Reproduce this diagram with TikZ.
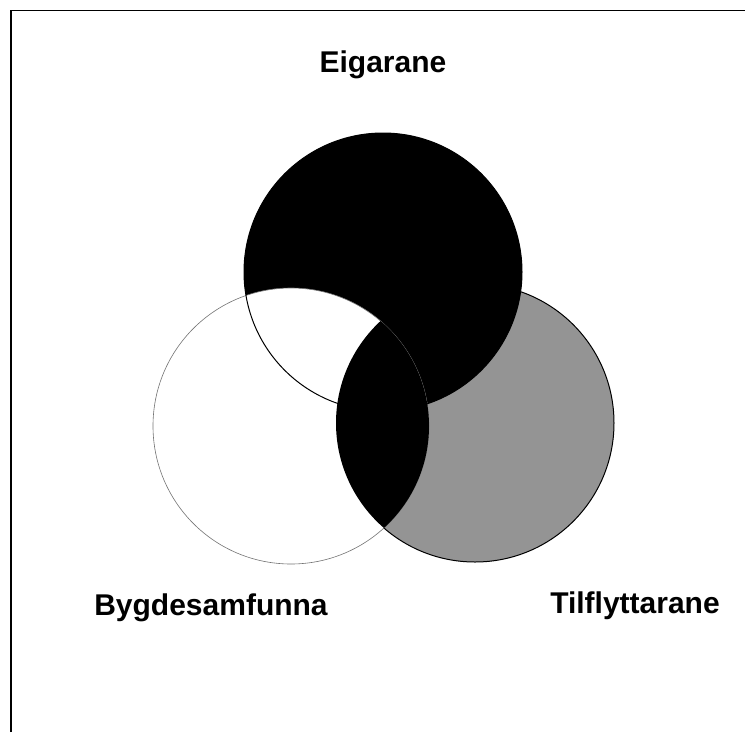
\documentclass[tikz,border=0pt]{standalone}
\usepackage{fontspec}
\setmainfont{Liberation Sans}
\usepackage{xcolor}
\usepackage{tikz}
\usetikzlibrary{positioning, calc}
\definecolor{midgrey}{gray}{0.58}
\tikzset{
  label/.style={font=\fontsize{30}{36}\selectfont\bfseries, anchor=base, inner sep=0pt},
  frameline/.style={line width=1.6pt, black},
  rim/.style={line width=1pt, black},
  thinrim/.style={line width=0.6pt, black!55},
}

\begin{document}
\begin{tikzpicture}[x=1pt, y=-1pt]
\useasboundingbox (0,0) rectangle (748,732);
\coordinate (owners) at (383,272);
\coordinate (community) at (291,426);
\coordinate (newcomers) at (475,423);

% frame, open on right and bottom
\draw[frameline] (11,732) -- (11,10.5) -- (745,10.5);

% circles
\fill[midgrey] (newcomers) circle[radius=139pt];
\draw[rim] (newcomers) circle[radius=139pt];
\fill[black] (owners) circle[radius=139pt];
\fill[white] (community) circle[radius=138pt];
\draw[thinrim] (community) circle[radius=138pt];
\draw[rim] (owners) circle[radius=139pt];
\begin{scope}
  \clip (community) circle[radius=138pt];
  \fill[black] (newcomers) circle[radius=139pt];
\end{scope}

\node[label] (eig) at (383,72) {Eigarane};
\node[label] (byg) at (211,615) {Bygdesamfunna};
\node[label] (til) at (635,613) {Tilflyttarane};
\end{tikzpicture}
\end{document}
